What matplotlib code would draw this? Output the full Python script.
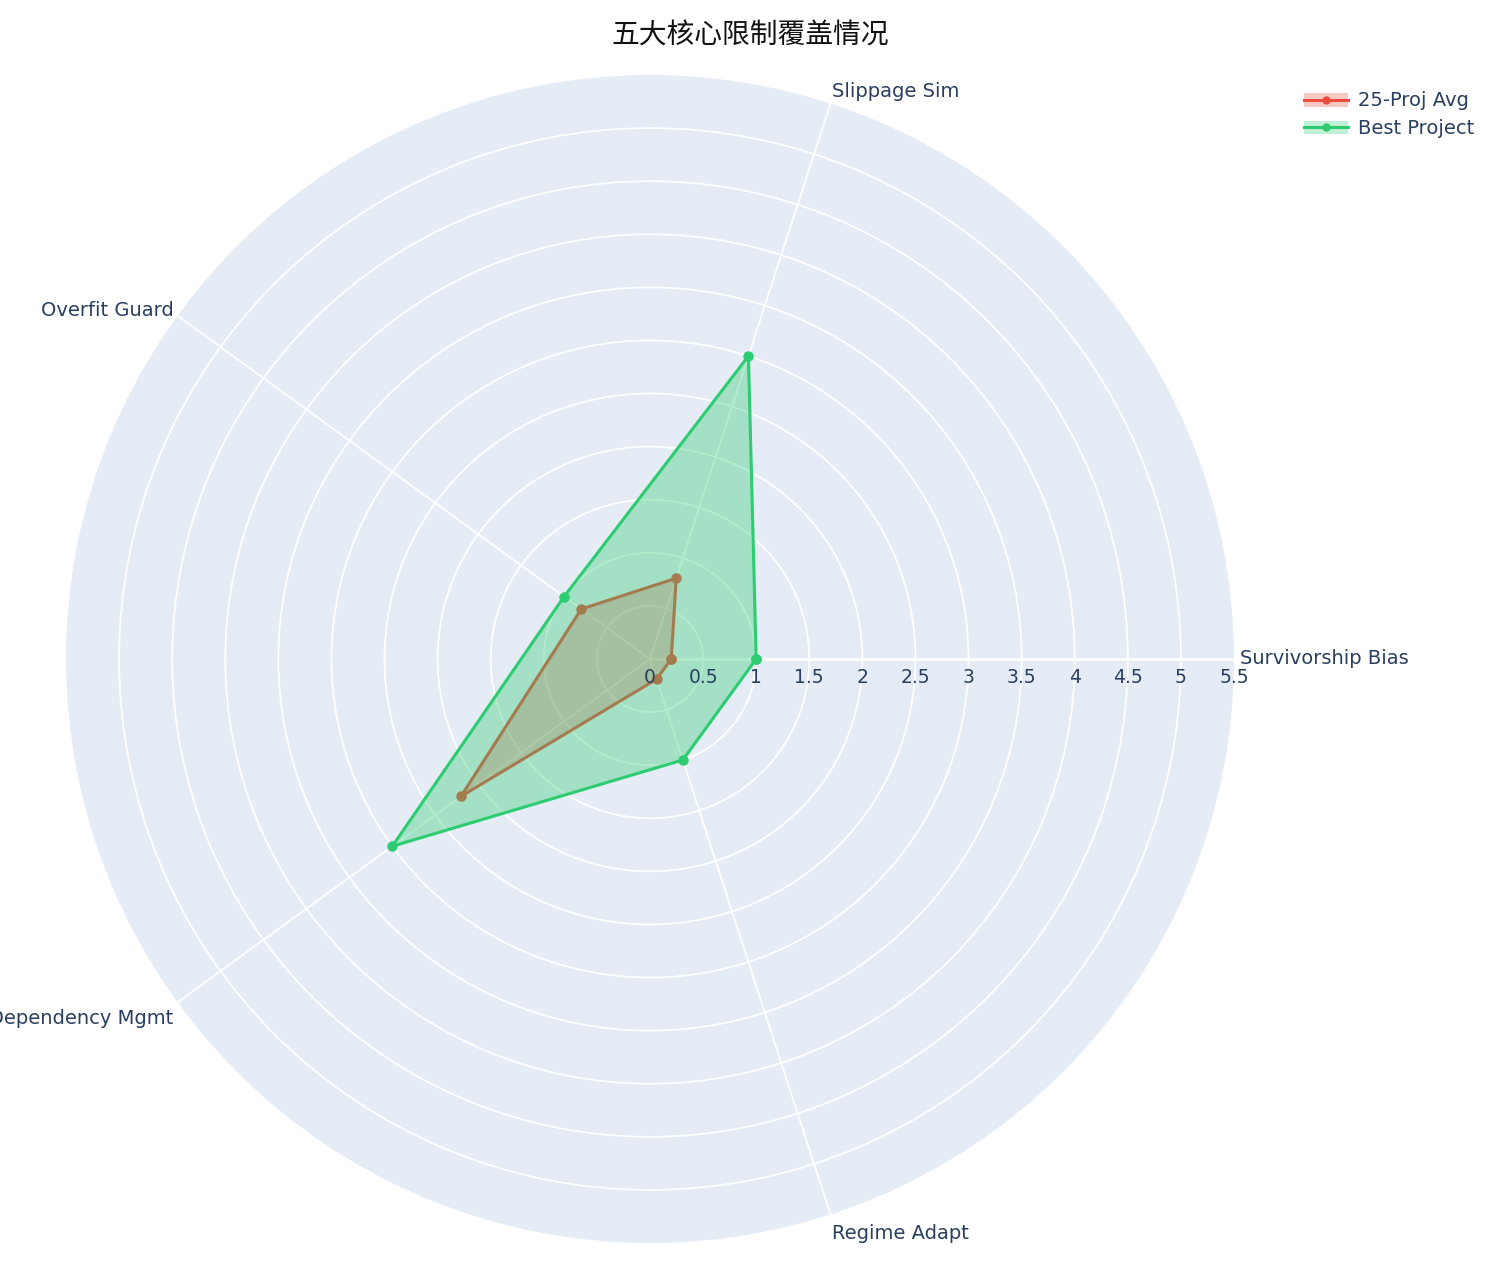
import numpy as np
import matplotlib.pyplot as plt
from matplotlib.patches import Patch
from matplotlib.lines import Line2D
from matplotlib.legend_handler import HandlerTuple

plt.rcParams['font.family'] = ['DejaVu Sans', 'Noto Sans CJK SC']

categories = ['Survivorship Bias', 'Slippage Sim', 'Overfit Guard', 'Dependency Mgmt', 'Regime Adapt']
avg_vals = [0.2, 0.8, 0.8, 2.2, 0.2]
best_vals = [1, 3, 1, 3, 1]
series_names = ['25-Proj Avg', 'Best Project']
rticks = [0, 0.5, 1, 1.5, 2, 2.5, 3, 3.5, 4, 4.5, 5, 5.5]
rtick_labels = ['0', '0.5', '1', '1.5', '2', '2.5', '3', '3.5', '4', '4.5', '5', '5.5']

txt = '#2a3f5f'
red = '#e74c3c'
green = '#2ecc71'
bg = '#e5ecf6'

fig = plt.figure(figsize=(15, 12.75), dpi=100)
ax = fig.add_axes([66 / 1500, 32 / 1275, 1168 / 1500, 1168 / 1275], projection='polar')
ax.set_facecolor(bg)
ax.spines['polar'].set_visible(False)
ax.set_ylim(0, 5.5)

theta = np.deg2rad(np.arange(len(categories)) * 72)
ax.set_xticks(theta)
ax.set_xticklabels([])
ax.set_yticks(rticks[1:-1])
ax.set_yticklabels([])
ax.grid(True, color='white', linewidth=1.3)
ax.set_axisbelow(True)
ax.tick_params(length=0)

# radial axis line
ax.plot([0, 0], [0, 5.5], color='white', lw=2, zorder=1)

th = np.append(theta, theta[0])
a = np.append(avg_vals, avg_vals[0])
b = np.append(best_vals, best_vals[0])

ax.fill(th, a, color=red, alpha=0.3, lw=0, zorder=2)
ax.plot(th, a, color=red, lw=2.2, marker='o', ms=6.5, zorder=3)
ax.fill(th, b, color=green, alpha=0.36, lw=0, zorder=4)
ax.plot(th, b, color=green, lw=2.2, marker='o', ms=6.5, zorder=5)

for r, lab in zip(rticks, rtick_labels):
    ax.annotate(lab, (0, r), xytext=(0, -9), textcoords='offset pixels',
                ha='center', va='top', fontsize=13.5, color=txt, zorder=6)

offsets = [(6, 0, 'left'), (2, 12, 'left'), (-4, 5, 'right'), (-4, -16, 'right'), (2, -19, 'left')]
for t, lab, (dx, dy, ha) in zip(theta, categories, offsets):
    ax.annotate(lab, (t, 5.5), xytext=(dx, dy), textcoords='offset pixels',
                ha=ha, va='center', fontsize=14, color=txt, annotation_clip=False)

fig.text(0.5, 1 - 36 / 1275, '五大核心限制覆盖情况', ha='center', va='center',
         fontsize=20, color='#111111', family=['Noto Sans CJK SC', 'DejaVu Sans'])

handles = []
for c in (red, green):
    handles.append((Patch(facecolor=c, alpha=0.3, lw=0),
                    Line2D([], [], color=c, lw=2.2, marker='o', ms=5)))
leg = fig.legend(handles, series_names, loc='upper left', bbox_to_anchor=(1286 / 1500, 1 - 74 / 1275),
                 frameon=False, fontsize=14, labelcolor=txt, handlelength=2.3, handletextpad=0.5,
                 labelspacing=0.45, handler_map={tuple: HandlerTuple(ndivide=1, pad=0)})

fig.savefig('out.png', dpi=100)
